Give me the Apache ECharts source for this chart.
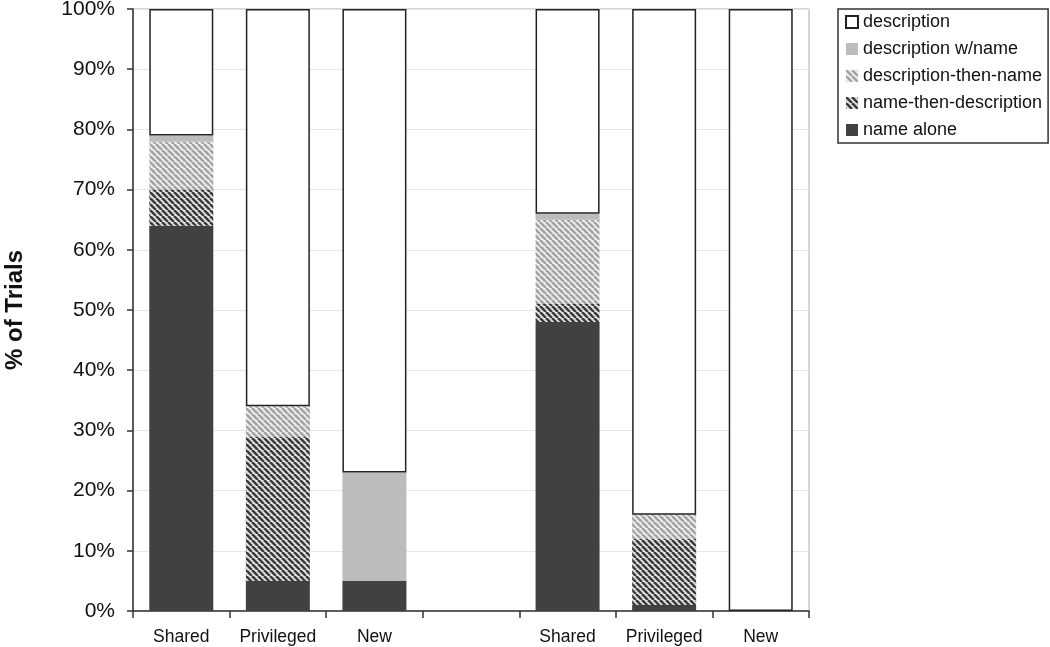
<!DOCTYPE html>
<html><head><meta charset="utf-8">
<script src="https://cdn.jsdelivr.net/npm/echarts@6/dist/echarts.min.js"></script>
<style>html,body{margin:0;padding:0;background:#fff}#c{width:1050px;height:647px}</style>
</head><body><div id="c"></div>
<script>
const categories = ['Shared','Privileged','New','','Shared','Privileged','New'];
const nameAlone = [64, 5, 5, null, 48, 1, 0];
const nameThenDesc = [6, 24, 0, null, 3, 11, 0];
const descThenName = [8, 5, 0, null, 14, 4, 0];
const descWithName = [1, 0, 18, null, 1, 0, 0];
const description = [21, 66, 77, null, 34, 84, 100];
const yTicks = [0,10,20,30,40,50,60,70,80,90,100];

function stripes(fg, bg) {
  const s = 6;
  const c = document.createElement('canvas');
  c.width = s; c.height = s;
  const g = c.getContext('2d');
  g.fillStyle = bg; g.fillRect(0,0,s,s);
  g.strokeStyle = fg; g.lineWidth = 2.6;
  for (let o = -s; o <= s; o += s) {
    g.beginPath(); g.moveTo(o, 0); g.lineTo(o + s, s); g.stroke();
  }
  return {image: c, repeat: 'repeat'};
}

const font = 'Liberation Sans, Arial, sans-serif';
const mk = (name, data, itemStyle) => ({
  name, type: 'bar', stack: 'all', data, barWidth: 64, itemStyle, emphasis: {disabled: true}
});

const chart = echarts.init(document.getElementById('c'));
chart.setOption({
  animation: false,
  textStyle: {fontFamily: font},
  grid: {left: 133, right: 241, top: 9, bottom: 36, show: true, borderColor: '#aaa', borderWidth: 1,
         containLabel: false, outerBoundsMode: 'none'},
  legend: {
    orient: 'vertical', left: 838, top: 9, itemWidth: 12, itemHeight: 12, itemGap: 9,
    icon: 'rect',
    padding: [4, 6, 4, 7], borderColor: '#333', borderWidth: 1.5,
    textStyle: {fontSize: 18, color: '#111', fontFamily: font},
    data: ['description','description w/name','description-then-name','name-then-description','name alone']
  },
  xAxis: {
    type: 'category', data: categories, boundaryGap: true,
    axisLine: {lineStyle: {color: '#333', width: 1.5}},
    axisTick: {show: true, length: 7, interval: 0, lineStyle: {color: '#333', width: 1.5}},
    axisLabel: {fontSize: 17.5, color: '#111', margin: 17, interval: 0, fontFamily: font}
  },
  yAxis: {
    type: 'value', min: 0, max: 100, interval: 10,
    name: '% of Trials', nameLocation: 'middle', nameGap: 106,
    nameTextStyle: {fontSize: 24, fontWeight: 'bold', color: '#111', fontFamily: font},
    axisLine: {show: true, lineStyle: {color: '#333', width: 1.5}},
    axisTick: {show: true, length: 6, lineStyle: {color: '#333', width: 1.5}},
    axisLabel: {fontSize: 21, color: '#111', margin: 18, formatter: v => yTicks.includes(v) ? v + '%' : '', fontFamily: font},
    splitLine: {lineStyle: {color: '#e6e6e6', width: 1}}
  },
  series: [
    mk('name alone', nameAlone, {color: '#414141'}),
    mk('name-then-description', nameThenDesc, {color: stripes('#3c3c3c', '#e8e8e8')}),
    mk('description-then-name', descThenName, {color: stripes('#a4a4a4', '#f0f0f0')}),
    mk('description w/name', descWithName, {color: '#bcbcbc'}),
    mk('description', description, {color: '#fff', borderColor: '#222', borderWidth: 1.5})
  ]
});
</script></body></html>
